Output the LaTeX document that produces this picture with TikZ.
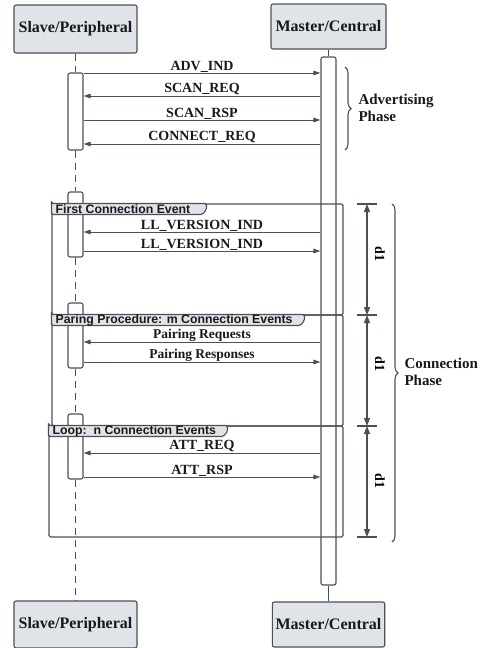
\documentclass[tikz,border=0pt]{standalone}
\usepackage{fontspec}
\setmainfont{Liberation Serif}
\newfontfamily\tabfont{Liberation Sans}
\usetikzlibrary{arrows.meta, decorations.pathreplacing}
\definecolor{linegray}{RGB}{75, 80, 88}
\definecolor{boxgray}{RGB}{224, 227, 232}

\begin{document}
\begin{tikzpicture}[x=1pt, y=-1pt,
    actor/.style={draw=linegray, fill=boxgray, rounded corners=2pt, line width=1.1pt, font=\fontsize{16}{18}\selectfont\bfseries, text=black!90},
    bar/.style={draw=linegray, fill=white, rounded corners=2pt, line width=1.1pt, minimum width=15pt, inner sep=0pt},
    life/.style={linegray, line width=1pt, dash pattern=on 7pt off 5pt},
    msg/.style={linegray, line width=1pt, -{Triangle[length=7pt, width=4.5pt]}},
    lbl/.style={above, font=\fontsize{14}{16}\selectfont\bfseries, text=black!90, inner sep=0.5pt},
    frame/.style={draw=linegray, rounded corners=1.5pt, line width=1.1pt, minimum height=111pt, inner sep=0pt},
    tab/.style={draw=linegray, fill=boxgray, line width=1.1pt, rounded corners=1.5pt},
    tablbl/.style={font=\tabfont\fontsize{12.3}{14}\selectfont\bfseries, text=black!90, inner sep=0pt, anchor=west},
    dim/.style={linegray, line width=1.1pt},
    brace/.style={linegray, line width=1.1pt, decorate, decoration={brace, amplitude=6pt}},
    phase/.style={font=\fontsize{15}{17}\selectfont\bfseries, text=black!90, align=left, anchor=west}]
    \useasboundingbox (0,0) rectangle (484,648);

    % Participants
    \node[actor, minimum width=123pt, minimum height=48pt] (slaveTop) at (75.5,29) {Slave/Peripheral};
    \node[actor, minimum width=115pt, minimum height=45pt] (masterTop) at (328.5,26.5) {Master/Central};
    \node[actor, minimum width=123pt, minimum height=47pt] (slaveBot) at (75.5,624.5) {Slave/Peripheral};
    \node[actor, minimum width=112pt, minimum height=45pt] (masterBot) at (328.5,624.5) {Master/Central};

    % Activation bars
    \node[bar, minimum height=528pt] (masterBar) at (328.5,321) {};
    \node[bar, minimum height=77pt] (sBar1) at (75.5,111.5) {};
    \node[bar, minimum height=65pt] (sBar2) at (75.5,224.5) {};
    \node[bar, minimum height=65pt] (sBar3) at (75.5,335.5) {};
    \node[bar, minimum height=65pt] (sBar4) at (75.5,446.5) {};

    % Lifelines
    \draw[life] (slaveTop) -- (sBar1);
    \draw[life] (sBar1) -- (sBar2);
    \draw[life] (sBar2) -- (sBar3);
    \draw[life] (sBar3) -- (sBar4);
    \draw[life] (sBar4) -- (slaveBot);
    \draw[linegray, line width=1pt] (masterTop) -- (masterBar);
    \draw[linegray, line width=1pt] (masterBar) -- (masterBot);

    % Frames
    \node[frame, minimum width=291pt] (frame1) at (197.5,259.5) {};
    \node[frame, minimum width=291pt] (frame2) at (197.5,370.5) {};
    \node[frame, minimum width=294pt] (frame3) at (196,481.5) {};
    \filldraw[tab] (frame1.north west) -| ++(155,6) -- ++(-4,5) -| cycle;
    \filldraw[tab] (frame2.north west) -| ++(253,6) -- ++(-4,5) -| cycle;
    \filldraw[tab] (frame3.north west) -| ++(179,6) -- ++(-4,5) -| cycle;
    \path (frame1.north west) ++(4,5.8) node[tablbl] (tab1) {First Connection Event};
    \path (frame2.north west) ++(4,5.8) node[tablbl] (tab2) {Paring Procedure: m Connection Events};
    \path (frame3.north west) ++(4,5.8) node[tablbl] (tab3) {Loop:\ \ n Connection Events};

    % Advertising messages
    \draw[msg] (sBar1.east |- 0,73) -- node[lbl] {ADV\_IND} (masterBar.west |- 0,73);
    \draw[msg] (masterBar.west |- 0,96) -- node[lbl] {SCAN\_REQ} (sBar1.east |- 0,96);
    \draw[msg] (sBar1.east |- 0,120) -- node[lbl] {SCAN\_RSP} (masterBar.west |- 0,120);
    \draw[msg] (masterBar.west |- 0,144) -- node[lbl] {CONNECT\_REQ} (sBar1.east |- 0,144);

    % Connection messages
    \draw[msg] (masterBar.west |- 0,232) -- node[lbl] {LL\_VERSION\_IND} (sBar2.east |- 0,232);
    \draw[msg] (sBar2.east |- 0,251) -- node[lbl] {LL\_VERSION\_IND} (masterBar.west |- 0,251);
    \draw[msg] (masterBar.west |- 0,342) -- node[lbl, font=\fontsize{13.5}{15}\selectfont\bfseries] {Pairing Requests} (sBar3.east |- 0,342);
    \draw[msg] (sBar3.east |- 0,362) -- node[lbl, font=\fontsize{13.5}{15}\selectfont\bfseries] {Pairing Responses} (masterBar.west |- 0,362);
    \draw[msg] (masterBar.west |- 0,453) -- node[lbl] {ATT\_REQ} (sBar4.east |- 0,453);
    \draw[msg] (sBar4.east |- 0,477) -- node[lbl] {ATT\_RSP} (masterBar.west |- 0,477);

    % Interval markers
    \foreach \y in {204,315,426,537}
        \draw[dim] (357,\y) -- (377,\y);
    \draw[dim, {Triangle[length=8pt, width=6pt]}-{Triangle[length=8pt, width=6pt]}] (367,204) -- (367,315);
    \draw[dim, {Triangle[length=8pt, width=6pt]}-{Triangle[length=8pt, width=6pt]}] (367,315) -- (367,426);
    \draw[dim, {Triangle[length=8pt, width=6pt]}-{Triangle[length=8pt, width=6pt]}] (367,426) -- (367,537);
    \node[rotate=-90, font=\fontsize{14}{16}\selectfont\bfseries] (d1a) at (380,254) {d1};
    \node[rotate=-90, font=\fontsize{14}{16}\selectfont\bfseries] (d1b) at (380,364) {d1};
    \node[rotate=-90, font=\fontsize{14}{16}\selectfont\bfseries] (d1c) at (380,481) {d1};

    % Phases
    \draw[brace] (345,67) -- (345,150);
    \node[phase] (advPhase) at (355,108) {Advertising\\Phase};
    \draw[brace] (392,204) -- (392,542);
    \node[phase] (conPhase) at (401,372) {Connection\\Phase};
\end{tikzpicture}
\end{document}
